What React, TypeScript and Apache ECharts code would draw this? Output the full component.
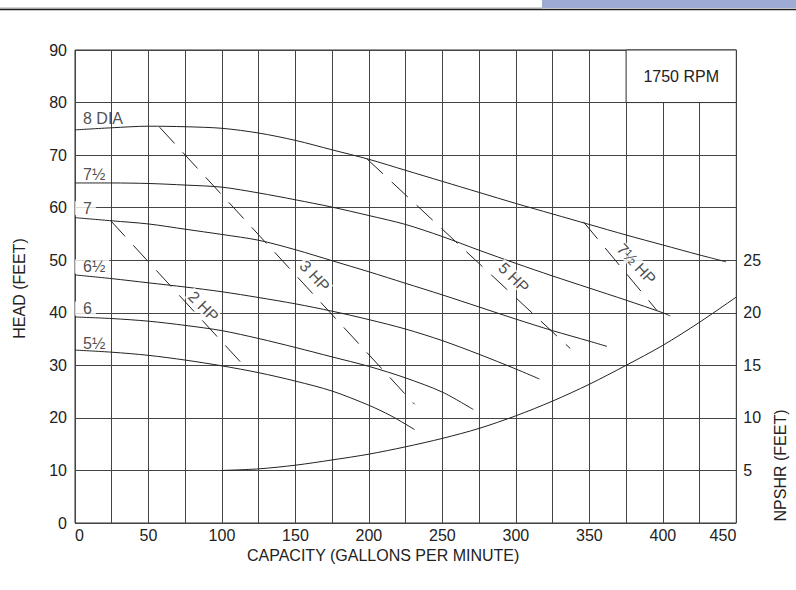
import React, { useEffect, useRef } from "react";
import * as echarts from "echarts";

// ---------- data (gpm, head ft) ----------
const dia8 = [[0, 74.8], [25, 75.2], [50, 75.5], [75, 75.4], [100, 75.1], [125, 74.2], [150, 72.8], [175, 71.0], [200, 69.2], [225, 67.1], [250, 65.0], [275, 62.9], [300, 60.8], [325, 58.8], [350, 56.8], [375, 54.8], [400, 52.9], [425, 51.0], [443, 49.7]];
const dia7h = [[0, 64.7], [25, 64.7], [50, 64.6], [75, 64.3], [100, 63.9], [125, 62.8], [150, 61.5], [175, 60.1], [200, 58.5], [225, 56.8], [250, 54.5], [275, 51.9], [300, 49.4], [325, 47.0], [350, 44.7], [375, 42.4], [400, 40.0], [405, 39.4]];
const dia7 = [[0, 58.1], [25, 57.5], [50, 56.9], [75, 55.9], [100, 54.9], [125, 53.8], [150, 52.0], [175, 49.9], [200, 47.8], [225, 45.6], [250, 43.4], [275, 41.1], [300, 38.8], [325, 36.6], [350, 34.6], [362, 33.6]];
const dia6h = [[0, 47.2], [25, 46.5], [50, 45.7], [75, 44.9], [100, 44.0], [125, 42.9], [150, 41.7], [175, 40.3], [200, 38.7], [225, 36.9], [250, 34.7], [275, 32.1], [300, 29.3], [316, 27.4]];
const dia6 = [[0, 39.2], [25, 38.9], [50, 38.4], [75, 37.6], [100, 36.6], [125, 35.1], [150, 33.4], [175, 31.6], [200, 29.8], [225, 27.6], [250, 24.9], [271, 21.6]];
const dia5h = [[0, 32.9], [25, 32.5], [50, 31.9], [75, 31.0], [100, 29.9], [125, 28.6], [150, 27.0], [175, 25.1], [200, 22.4], [215, 20.4], [231, 17.8]];

// NPSHR (gpm, feet on right axis)
const npshr = [[100, 5.0], [125, 5.15], [150, 5.5], [175, 6.0], [200, 6.55], [225, 7.25], [250, 8.05], [275, 9.0], [300, 10.2], [325, 11.6], [350, 13.2], [375, 15.0], [400, 16.9], [425, 19.1], [450, 21.5]];

// horsepower lines (gpm, head)
const hp2 = [[24, 57.6], [118, 29.0]];
const hp3 = [[57.6, 75.3], [231, 22.6]];
const hp5 = [[198.6, 69.3], [337, 33.2]];
const hp75 = [[346, 57.3], [395.8, 40.5]];

// labels
const diaNames = ["8 DIA", "7½", "7", "6½", "6", "5½"];
const diaLabelHeads = [76.9, 66.4, 59.9, 48.8, 40.8, 34.2];
const diaLabelOnGrid = [false, false, true, true, true, false];
const hpNames = ["2 HP", "3 HP", "5 HP", "7½ HP"];
const hpLabelPos = [[87.4, 41.2], [163.1, 47.0], [298.6, 46.7], [382, 49.3]];
const hpLabelAngle = [-45, -47, -45, -47];
const rpmText = "1750 RPM";
const rpmBox = [[375, 80], [450, 90]];

const FONT = "'Liberation Sans', Arial, Helvetica, sans-serif";
const INK = "#222";
const GRID = "#444";

export default function App() {
  const ref = useRef<HTMLDivElement>(null);

  useEffect(() => {
    const chart = echarts.init(ref.current as HTMLDivElement, null, { renderer: "svg" });

    const curve = (name: string, data: number[][], extra: any = {}) => ({
      type: "line",
      name,
      data,
      symbol: "none",
      smooth: 0.3,
      lineStyle: { color: INK, width: 1 },
      z: 3,
      silent: true,
      ...extra,
    });
    const hpLine = (name: string, data: number[][]) => ({
      type: "line",
      name,
      data,
      symbol: "none",
      lineStyle: { color: INK, width: 1, type: [22, 12] },
      z: 3,
      silent: true,
    });

    const option: any = {
      animation: false,
      backgroundColor: "#fff",
      textStyle: { fontFamily: FONT },
      grid: {
        left: 75,
        top: 50,
        right: 57,
        bottom: 67,
        show: true,
        borderColor: "#333",
        borderWidth: 1,
        backgroundColor: "transparent",
      },
      xAxis: {
        type: "value",
        min: 0,
        max: 450,
        interval: 25,
        name: "CAPACITY (GALLONS PER MINUTE)",
        nameLocation: "middle",
        nameGap: 24,
        nameTextStyle: { fontSize: 16, color: INK, fontFamily: FONT, padding: [0, 45, 0, 0] },
        axisLine: { show: false },
        axisTick: { show: false },
        splitLine: { show: true, lineStyle: { color: GRID, width: 1 } },
        axisLabel: {
          fontSize: 16,
          color: INK,
          fontFamily: FONT,
          margin: 4,
          showMinLabel: true,
          showMaxLabel: true,
          alignMinLabel: "left",
          alignMaxLabel: "right",
          formatter: (v: number) => (v % 50 === 0 ? String(v) : ""),
        },
      },
      yAxis: [
        {
          type: "value",
          min: 0,
          max: 90,
          interval: 10,
          name: "HEAD (FEET)",
          nameLocation: "middle",
          nameRotate: 90,
          nameGap: 48,
          nameTextStyle: { fontSize: 16, color: INK, fontFamily: FONT, padding: [0, 4, 0, 0] },
          axisLine: { show: false },
          axisTick: { show: false },
          splitLine: { show: true, lineStyle: { color: GRID, width: 1 } },
          axisLabel: { fontSize: 16, color: INK, fontFamily: FONT, margin: 8 },
        },
        {
          type: "value",
          position: "right",
          min: 0,
          max: 45,
          interval: 5,
          name: "NPSHR (FEET)",
          nameLocation: "middle",
          nameRotate: 90,
          nameGap: 30,
          nameTextStyle: { fontSize: 16, color: INK, fontFamily: FONT, padding: [0, 358, 0, 0] },
          axisLine: { show: false },
          axisTick: { show: false },
          splitLine: { show: false },
          axisLabel: {
            fontSize: 16,
            color: INK,
            fontFamily: FONT,
            margin: 7,
            formatter: (v: number) => (v >= 5 && v <= 25 ? String(v) : ""),
          },
        },
      ],
      graphic: [
        { type: "rect", shape: { x: 542, y: 0, width: 254, height: 8 }, style: { fill: "#9eacd3" } },
        { type: "line", shape: { x1: 0, y1: 8, x2: 542, y2: 8 }, style: { stroke: "#aaa", lineWidth: 1 } },
        { type: "line", shape: { x1: 0, y1: 9.5, x2: 796, y2: 9.5 }, style: { stroke: "#1e1e1e", lineWidth: 1.6 } },
      ],
      series: [
        curve("8 DIA", dia8, {
          markArea: {
            silent: true,
            z: 2,
            itemStyle: { color: "#fff", opacity: 1, borderColor: "#333", borderWidth: 1 },
            label: { show: true, position: "inside", fontSize: 16, color: INK, fontFamily: FONT },
            data: [[
              { name: rpmText, xAxis: rpmBox[0][0], yAxis: rpmBox[0][1] },
              { xAxis: rpmBox[1][0], yAxis: rpmBox[1][1] },
            ]],
          },
        }),
        curve("7½", dia7h),
        curve("7", dia7),
        curve("6½", dia6h),
        curve("6", dia6),
        curve("5½", dia5h),
        curve("NPSHR", npshr, { yAxisIndex: 1 }),
        hpLine("2 HP", hp2),
        hpLine("3 HP", hp3),
        hpLine("5 HP", hp5),
        hpLine("7½ HP", hp75),
        {
          type: "scatter",
          name: "diameter labels",
          symbolSize: 0,
          z: 10,
          silent: true,
          data: diaNames.map((n, i) => ({
            name: n,
            value: [0, diaLabelHeads[i]],
            label: diaLabelOnGrid[i] ? { backgroundColor: "#fff" } : {},
          })),
          label: {
            show: true,
            position: "right",
            distance: 0,
            formatter: (p: any) => p.name,
            fontSize: 16,
            lineHeight: 14,
            color: INK,
            fontFamily: FONT,
            padding: [0, 4, 0, 8],
          },
        },
        {
          type: "scatter",
          name: "hp labels",
          symbolSize: 0,
          z: 10,
          silent: true,
          data: hpNames.map((n, i) => ({
            name: n,
            value: hpLabelPos[i],
            label: { rotate: hpLabelAngle[i] },
          })),
          label: {
            show: true,
            position: "inside",
            formatter: (p: any) => p.name,
            fontSize: 16,
            lineHeight: 14,
            color: INK,
            fontFamily: FONT,
            backgroundColor: "#fff",
            padding: [0, 2],
          },
        },
      ],
    };

    chart.setOption(option);
    return () => chart.dispose();
  }, []);

  return (
    <div
      ref={ref}
      style={{ position: "fixed", left: 0, top: 0, width: 796, height: 590, background: "#fff" }}
    />
  );
}
